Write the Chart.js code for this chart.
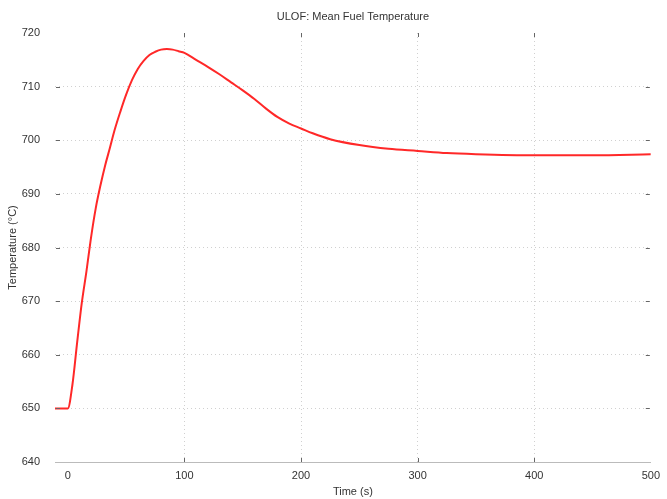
<!DOCTYPE html>
<html>
<head>
<meta charset="utf-8">
<script src="https://cdn.jsdelivr.net/npm/chart.js@4.4.0/dist/chart.umd.min.js"></script>
<style>
  html, body { margin: 0; padding: 0; background: #fff; overflow: hidden; }
  #wrap { width: 667px; height: 499px; }
</style>
</head>
<body>
<div id="wrap"><canvas id="myChart" width="667" height="499"></canvas></div>
<script>
// datos
var tiempos      = [-11, 0, 4, 8, 12, 16, 20, 24, 28, 32, 36, 40, 45, 50, 55, 60, 65, 70, 75, 80, 85, 90, 95, 100,
                    110, 120, 130, 140, 150, 160, 170, 180, 190, 200, 210, 225, 250, 275, 300, 325, 350, 400, 450, 500];
var temperaturas = [650, 650, 654.5, 662.3, 669.7, 675.6, 682, 687.4, 691.6, 695.3, 698.5, 701.8, 705.3, 708.5, 711.2, 713.3, 714.8, 715.9, 716.5, 716.9, 717.0, 716.9, 716.6, 716.3,
                    715.0, 713.7, 712.3, 710.8, 709.3, 707.7, 705.9, 704.3, 703.1, 702.2, 701.3, 700.2, 699.1, 698.4, 698.0, 697.6, 697.4, 697.2, 697.2, 697.4];
var ticks_x      = [0, 100, 200, 300, 400, 500];
var ticks_y      = [640, 650, 660, 670, 680, 690, 700, 710, 720];

var titulo = 'ULOF: Mean Fuel Temperature';

var puntos = tiempos.map(function (t, i) { return { x: t, y: temperaturas[i] }; });

// marcas de ticks hacia adentro y titulo centrado en el area
var marcas_plugin = {
  id: 'marcas',
  afterDraw: function (chart) {
    var ctx = chart.ctx, a = chart.chartArea;
    var sx = chart.scales.x, sy = chart.scales.y;
    ctx.save();
    ctx.strokeStyle = '#666';
    ctx.lineWidth = 1;
    ctx.beginPath();
    ticks_y.slice(1, -1).forEach(function (v) {
      var py = Math.round(sy.getPixelForValue(v)) + 0.5;
      ctx.moveTo(a.left + 1, py); ctx.lineTo(a.left + 5, py);
      ctx.moveTo(a.right - 5, py); ctx.lineTo(a.right - 1, py);
    });
    ticks_x.slice(1, -1).forEach(function (v) {
      var px = Math.round(sx.getPixelForValue(v)) + 0.5;
      ctx.moveTo(px, a.bottom); ctx.lineTo(px, a.bottom - 4);
      ctx.moveTo(px, a.top); ctx.lineTo(px, a.top + 4);
    });
    ctx.stroke();

    ctx.fillStyle = '#333';
    ctx.font = '11px "Liberation Sans", Arial, sans-serif';
    ctx.textAlign = 'center';
    ctx.textBaseline = 'middle';
    ctx.fillText(titulo, (a.left + a.right) / 2, 17);
    ctx.restore();
  }
};

var fuente = { family: '"Liberation Sans", Arial, sans-serif', size: 11 };

// sin rejilla en los bordes
function color_rejilla(c) {
  var v = c.tick ? c.tick.value : null;
  if (v === 0 || v === 720 || v === 640 || v === 500) return 'rgba(0,0,0,0)';
  return '#d0d0d0';
}

var chart_linea = new Chart(document.getElementById('myChart'), {
  type: 'line',
  data: {
    datasets: [{
      label: 'Mean Fuel',
      data: puntos,
      borderColor: 'rgba(255, 40, 40, 1)',
      borderWidth: 2,
      pointRadius: 0,
      fill: false,
      cubicInterpolationMode: 'monotone'
    }]
  },
  options: {
    responsive: false,
    animation: false,
    layout: { padding: { top: 33, right: 0, left: 0, bottom: 0 } },
    plugins: {
      legend: { display: false },
      title: { display: false },
      tooltip: { enabled: false }
    },
    scales: {
      x: {
        type: 'linear',
        min: -11,
        max: 500,
        afterBuildTicks: function (s) { s.ticks = ticks_x.map(function (v) { return { value: v }; }); },
        afterFit: function (s) { s.height = 37; },
        border: { display: true, color: '#bbb', width: 1, dash: [1, 3] },
        grid: { color: color_rejilla, drawTicks: false },
        ticks: { color: '#333', font: fuente, padding: 7, maxRotation: 0 },
        title: { display: true, text: 'Time (s)', color: '#333', font: fuente, padding: { top: 2, bottom: 0 } }
      },
      y: {
        type: 'linear',
        min: 640,
        max: 720,
        afterBuildTicks: function (s) { s.ticks = ticks_y.map(function (v) { return { value: v }; }); },
        afterFit: function (s) { s.width = 55; },
        border: { display: false, dash: [1, 3] },
        grid: { color: color_rejilla, drawTicks: false },
        ticks: { color: '#333', font: fuente, padding: 15 },
        title: { display: true, text: 'Temperature (°C)', color: '#333', font: fuente, padding: { top: 6, bottom: 0 } }
      }
    }
  },
  plugins: [marcas_plugin]
});
</script>
</body>
</html>
